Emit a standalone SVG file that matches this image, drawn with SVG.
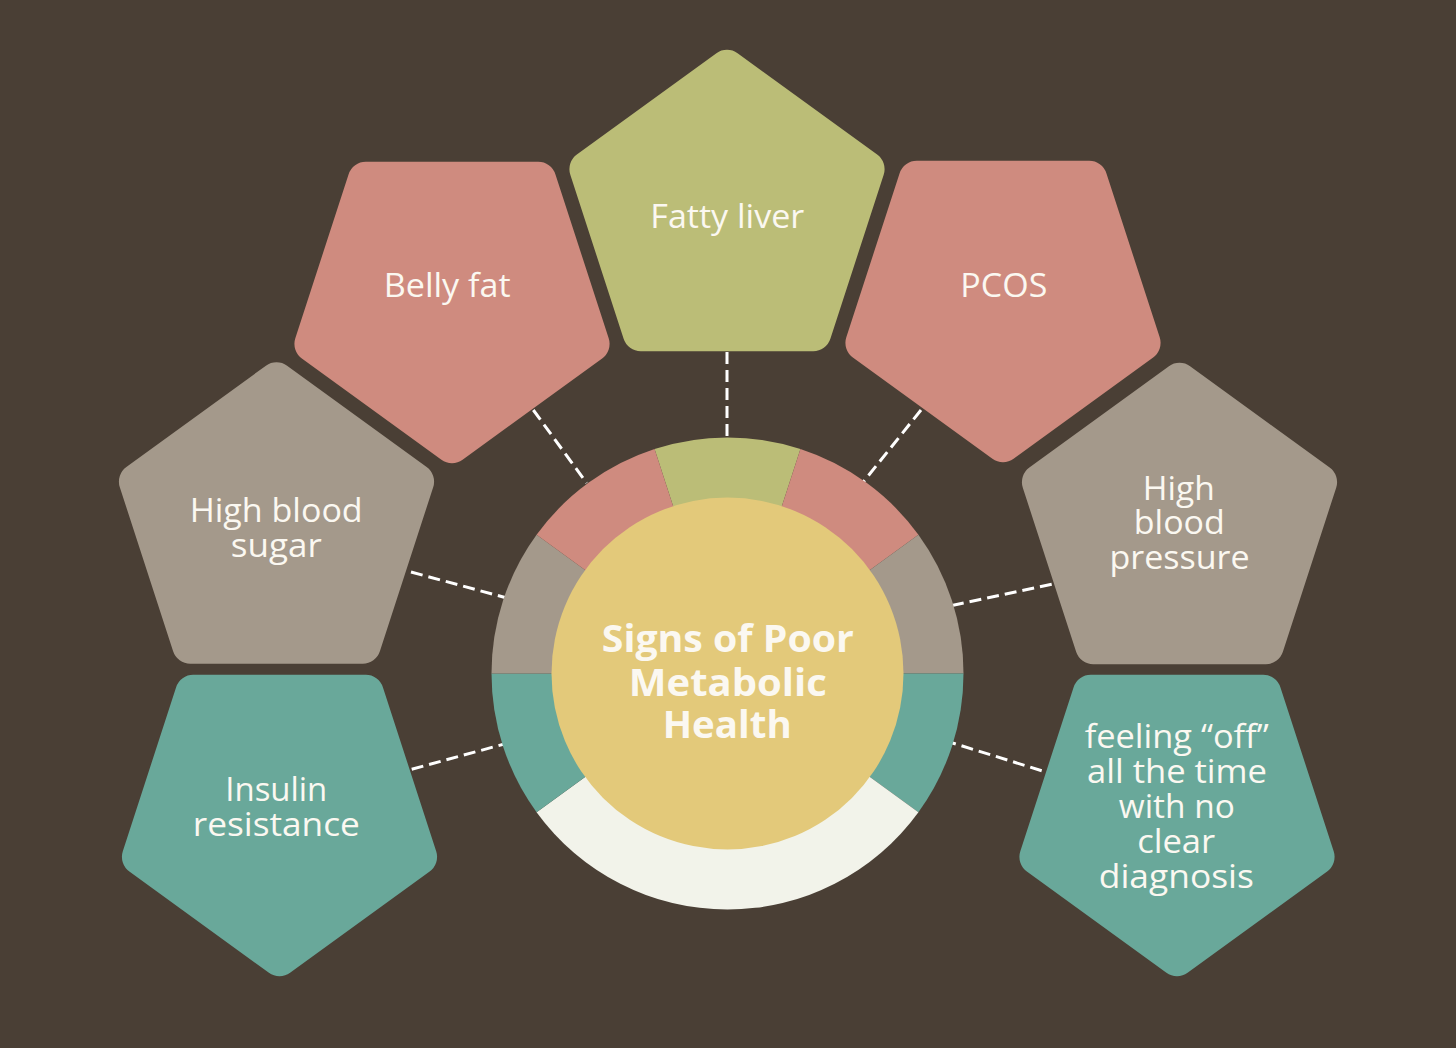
<svg xmlns="http://www.w3.org/2000/svg" xmlns:xlink="http://www.w3.org/1999/xlink" width="1456" height="1048" viewBox="0 0 1456 1048">
  <style>
    .lbl { font-family: "Open Sans", "Noto Sans", "Liberation Sans", sans-serif; font-size: 33px; fill: #fbf8f1; text-anchor: middle; }
    .title { font-family: "Open Sans", "Noto Sans", "Liberation Sans", sans-serif; font-size: 38px; font-weight: 700; fill: #fbf8f1; text-anchor: middle; }
    .pink { fill: #cf8b7f; }
    .green { fill: #bbbd77; }
    .gray { fill: #a4998b; }
    .teal { fill: #69a89a; }
    .dash { stroke: #ffffff; stroke-width: 3; stroke-dasharray: 12 6; fill: none; }
  </style>
  <defs>
    <path id="pent" d="M10.58 -161.31 L150.15 -59.91 A18 18 0 0 1 156.69 -39.78 L103.38 124.28 A18 18 0 0 1 86.26 136.72 L-86.26 136.72 A18 18 0 0 1 -103.38 124.28 L-156.69 -39.78 A18 18 0 0 1 -150.15 -59.91 L-10.58 -161.31 A18 18 0 0 1 10.58 -161.31 Z"/>
  </defs>
  <rect width="1456" height="1048" fill="#4a3f35"/>

  <g id="connectors">
    <line class="dash" x1="727" y1="352" x2="727" y2="437"/>
    <line class="dash" x1="533.3" y1="410" x2="586.7" y2="483"/>
    <line class="dash" x1="921" y1="410" x2="861.7" y2="484"/>
    <line class="dash" x1="411" y1="572" x2="505" y2="597.5"/>
    <line class="dash" x1="1051.7" y1="584.3" x2="951.7" y2="605.5"/>
    <line class="dash" x1="411.7" y1="769.3" x2="504.3" y2="744"/>
    <line class="dash" x1="1041.7" y1="770.7" x2="951.7" y2="742.7"/>
  </g>

  <g id="hub">
    <path class="green" d="M727.5 673.5 L654.57 449.05 A236 236 0 0 1 800.43 449.05 Z"/>
    <path class="pink" d="M727.5 673.5 L800.43 449.05 A236 236 0 0 1 918.43 534.78 Z"/>
    <path class="gray" d="M727.5 673.5 L918.43 534.78 A236 236 0 0 1 963.5 673.5 Z"/>
    <path class="teal" d="M727.5 673.5 L963.5 673.5 A236 236 0 0 1 918.43 812.22 Z"/>
    <path fill="#f2f3ea" d="M727.5 673.5 L918.43 812.22 A236 236 0 0 1 536.57 812.22 Z"/>
    <path class="teal" d="M727.5 673.5 L536.57 812.22 A236 236 0 0 1 491.5 673.5 Z"/>
    <path class="gray" d="M727.5 673.5 L491.5 673.5 A236 236 0 0 1 536.57 534.78 Z"/>
    <path class="pink" d="M727.5 673.5 L536.57 534.78 A236 236 0 0 1 654.57 449.05 Z"/>
    <circle cx="727.5" cy="673.5" r="176" fill="#e3c97a"/>
    <text class="title" x="727.8" y="652.3" textLength="252" lengthAdjust="spacingAndGlyphs">Signs of Poor</text>
    <text class="title" x="727.8" y="695.7" textLength="198" lengthAdjust="spacingAndGlyphs">Metabolic</text>
    <text class="title" x="727.2" y="738.3" textLength="129" lengthAdjust="spacingAndGlyphs">Health</text>
  </g>

  <g id="fatty-liver">
    <use xlink:href="#pent" class="green" transform="translate(727 214.5)"/>
    <text class="lbl" x="727.3" y="228.3" textLength="154" lengthAdjust="spacingAndGlyphs">Fatty liver</text>
  </g>
  <g id="belly-fat">
    <use xlink:href="#pent" class="pink" transform="translate(452 298.5) rotate(180)"/>
    <text class="lbl" x="447.2" y="296.7" textLength="127" lengthAdjust="spacingAndGlyphs">Belly fat</text>
  </g>
  <g id="pcos">
    <use xlink:href="#pent" class="pink" transform="translate(1003 297.5) rotate(180)"/>
    <text class="lbl" x="1003.8" y="296.7" textLength="87" lengthAdjust="spacingAndGlyphs">PCOS</text>
  </g>
  <g id="high-blood-sugar">
    <use xlink:href="#pent" class="gray" transform="translate(276.5 527)"/>
    <text class="lbl" x="276.2" y="521.7" textLength="173" lengthAdjust="spacingAndGlyphs">High blood</text>
    <text class="lbl" x="276.3" y="556.7" textLength="91" lengthAdjust="spacingAndGlyphs">sugar</text>
  </g>
  <g id="high-blood-pressure">
    <use xlink:href="#pent" class="gray" transform="translate(1179.5 527.5)"/>
    <text class="lbl" x="1178.8" y="500" textLength="72" lengthAdjust="spacingAndGlyphs">High</text>
    <text class="lbl" x="1179.3" y="534.3" textLength="91" lengthAdjust="spacingAndGlyphs">blood</text>
    <text class="lbl" x="1179.5" y="569" textLength="140" lengthAdjust="spacingAndGlyphs">pressure</text>
  </g>
  <g id="insulin-resistance">
    <use xlink:href="#pent" class="teal" transform="translate(279.5 811.5) rotate(180)"/>
    <text class="lbl" x="276.3" y="800.7" textLength="102" lengthAdjust="spacingAndGlyphs">Insulin</text>
    <text class="lbl" x="276.3" y="835.7" textLength="167" lengthAdjust="spacingAndGlyphs">resistance</text>
  </g>
  <g id="feeling-off">
    <use xlink:href="#pent" class="teal" transform="translate(1177 811.5) rotate(180)"/>
    <text class="lbl" x="1176.7" y="748.3" textLength="184" lengthAdjust="spacingAndGlyphs">feeling “off”</text>
    <text class="lbl" x="1177" y="783" textLength="180" lengthAdjust="spacingAndGlyphs">all the time</text>
    <text class="lbl" x="1176.8" y="817.5" textLength="116" lengthAdjust="spacingAndGlyphs">with no</text>
    <text class="lbl" x="1176.2" y="852.5" textLength="78" lengthAdjust="spacingAndGlyphs">clear</text>
    <text class="lbl" x="1176.3" y="887.5" textLength="155" lengthAdjust="spacingAndGlyphs">diagnosis</text>
  </g>
</svg>
